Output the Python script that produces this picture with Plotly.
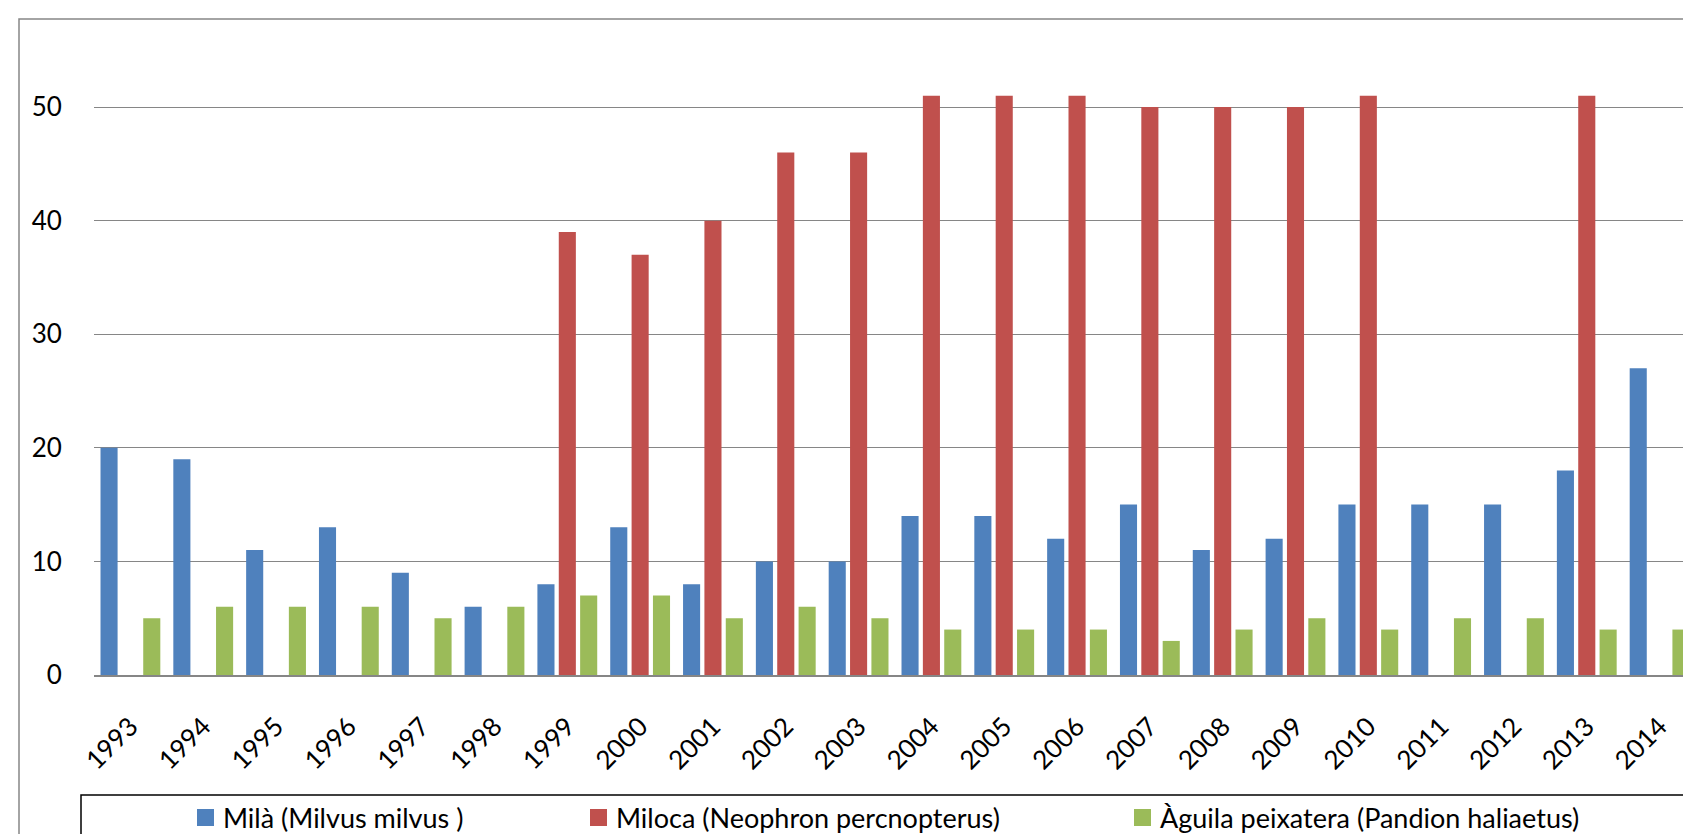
import plotly.graph_objects as go

years = [str(y) for y in range(1993, 2015)]
mila = [20, 19, 11, 13, 9, 6, 8, 13, 8, 10, 10, 14, 14, 12, 15, 11, 12, 15, 15, 15, 18, 27]
miloca = [None, None, None, None, None, None, 39, 37, 40, 46, 46, 51, 51, 51, 50, 50, 50, 51, None, None, 51, None]
aguila = [5, 6, 6, 6, 5, 6, 7, 7, 5, 6, 5, 4, 4, 4, 3, 4, 5, 4, 5, 5, 4, 4]

names = ["Milà (Milvus milvus )", "Miloca (Neophron percnopterus)", "Àguila peixatera (Pandion haliaetus)"]
colors = ["#4F81BD", "#C0504D", "#9BBB59"]
series = [mila, miloca, aguila]

W, H = 1691, 834
L, R, T, B = 86, 3, 11, 167
PW, PH = W - L - R, H - T - B


def px(x):
    return (x - L) / PW


def py(y):
    return (H - B - y) / PH


FONT = "Lato"

fig = go.Figure()
for name, col, vals in zip(names, colors, series):
    fig.add_trace(go.Bar(x=years, y=vals, name=name, marker_color=col,
                         marker_line_width=0, showlegend=False))

shapes = [
    # outer chart border
    dict(type="rect", xref="paper", yref="paper", x0=px(11), x1=px(W + 10), y0=py(H + 10), y1=py(11),
         line=dict(color="#868686", width=1.5), fillcolor="rgba(0,0,0,0)", layer="below"),
    # legend box
    dict(type="rect", xref="paper", yref="paper", x0=px(73), x1=px(W + 10), y0=py(832), y1=py(787),
         line=dict(color="#000000", width=1.5), fillcolor="rgba(0,0,0,0)"),
]
annotations = []
sq_x = [189, 582, 1126]
for sx, name, col in zip(sq_x, names, colors):
    shapes.append(dict(type="rect", xref="paper", yref="paper", x0=px(sx), x1=px(sx + 17),
                       y0=py(818), y1=py(801), line=dict(width=0), fillcolor=col))
    annotations.append(dict(xref="paper", yref="paper", x=px(sx + 24), y=py(809.5), text=name,
                            showarrow=False, xanchor="left", yanchor="middle",
                            font=dict(family=FONT, size=27, color="#000000")))

fig.update_layout(
    width=W, height=H,
    margin=dict(l=L, r=R, t=T, b=B, pad=0),
    paper_bgcolor="white", plot_bgcolor="white",
    barmode="group", bargap=0.12, bargroupgap=0.2,
    shapes=shapes, annotations=annotations,
    font=dict(family=FONT, color="#000000"),
    xaxis=dict(type="category", tickangle=-45, showgrid=False, showline=True,
               linecolor="#868686", linewidth=2, ticks="outside", ticklen=24,
               tickcolor="rgba(0,0,0,0)", tickfont=dict(size=26, family=FONT, color="#000000")),
    yaxis=dict(range=[0, 57.75], tick0=0, dtick=10, showgrid=True, gridcolor="#868686",
               gridwidth=1, zeroline=False, showline=False, ticks="outside", ticklen=26,
               tickcolor="rgba(0,0,0,0)", tickfont=dict(size=26, family=FONT, color="#000000")),
)

fig.write_html("out.html")
